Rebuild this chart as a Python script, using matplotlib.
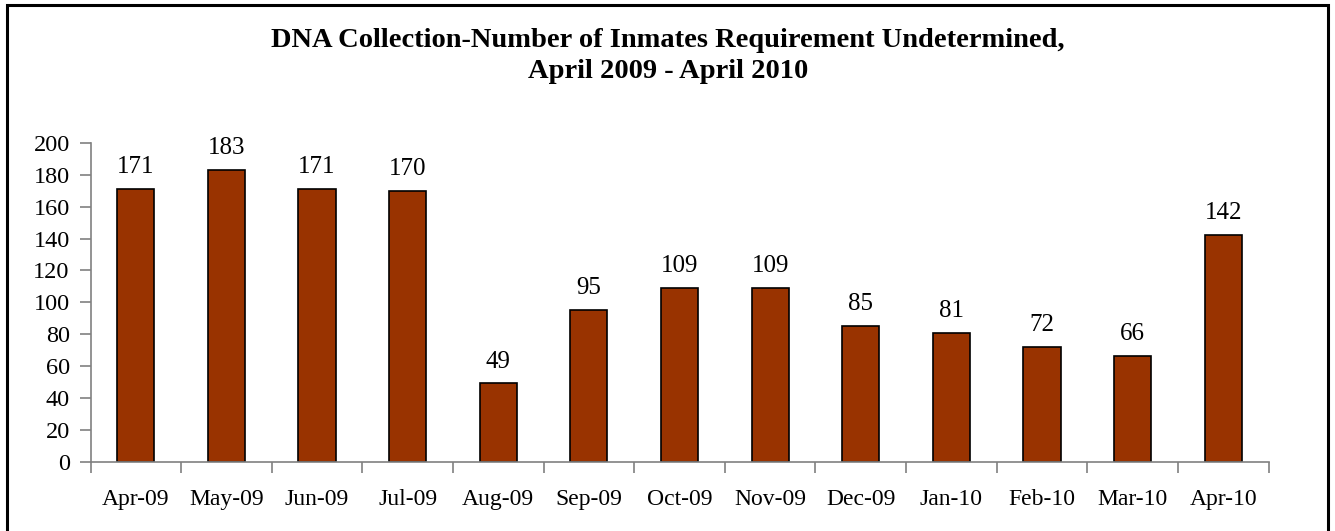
import matplotlib
matplotlib.use("Agg")
import matplotlib.pyplot as plt
from matplotlib.patches import Rectangle

months = ["Apr-09", "May-09", "Jun-09", "Jul-09", "Aug-09", "Sep-09", "Oct-09",
          "Nov-09", "Dec-09", "Jan-10", "Feb-10", "Mar-10", "Apr-10"]
counts = [171, 183, 171, 170, 49, 95, 109, 109, 85, 81, 72, 66, 142]
yticks = list(range(0, 201, 20))

plt.rcParams['font.family'] = ['Liberation Serif', 'DejaVu Serif']

W, H = 1335, 531
fig = plt.figure(figsize=(W / 100, H / 100), dpi=100)

# outer border (bottom edge cut off)
fig.patches.append(Rectangle((7 / W, -0.05), (1328 - 7) / W, 1.05 - 5 / H,
                             transform=fig.transFigure, fill=False,
                             edgecolor='black', linewidth=2.2))

ax_l, ax_r = 90.5 / W, 1268.5 / W
ax_t, ax_b = 1 - 143 / H, 1 - 461.5 / H
ax = fig.add_axes([ax_l, ax_b, ax_r - ax_l, ax_t - ax_b])

x = list(range(len(months)))
ax.bar(x, counts, width=0.41, color='#993300', edgecolor='black', linewidth=1.2)
for xi, v in zip(x, counts):
    ax.text(xi, v + 10, str(v), ha='center', va='baseline', fontsize=18)

ax.set_xlim(-0.5, len(months) - 0.5)
ax.set_ylim(0, 200)
ax.set_yticks(yticks)
ax.set_yticklabels([str(t) for t in yticks], fontsize=17.5)
ax.set_xticks(x)
ax.set_xticklabels(months, fontsize=17)
ax.tick_params(axis='x', length=0, pad=20)
ax.set_xticks([i - 0.5 for i in range(len(months) + 1)], minor=True)
ax.tick_params(axis='x', which='minor', length=8, width=1.2, color='#808080', direction='out')
ax.tick_params(axis='y', length=8, width=1.2, color='#808080', direction='out', pad=7)
for s in ['top', 'right']:
    ax.spines[s].set_visible(False)
for s in ['left', 'bottom']:
    ax.spines[s].set_color('#808080')
    ax.spines[s].set_linewidth(1.2)

fig.text(668 / W, 1 - 47 / H, "DNA Collection-Number of Inmates Requirement Undetermined,",
         ha='center', va='baseline', fontsize=20.5, fontweight='bold')
fig.text(668 / W, 1 - 78 / H, "April 2009 - April 2010",
         ha='center', va='baseline', fontsize=20.5, fontweight='bold')

fig.savefig("out.png", dpi=100)
